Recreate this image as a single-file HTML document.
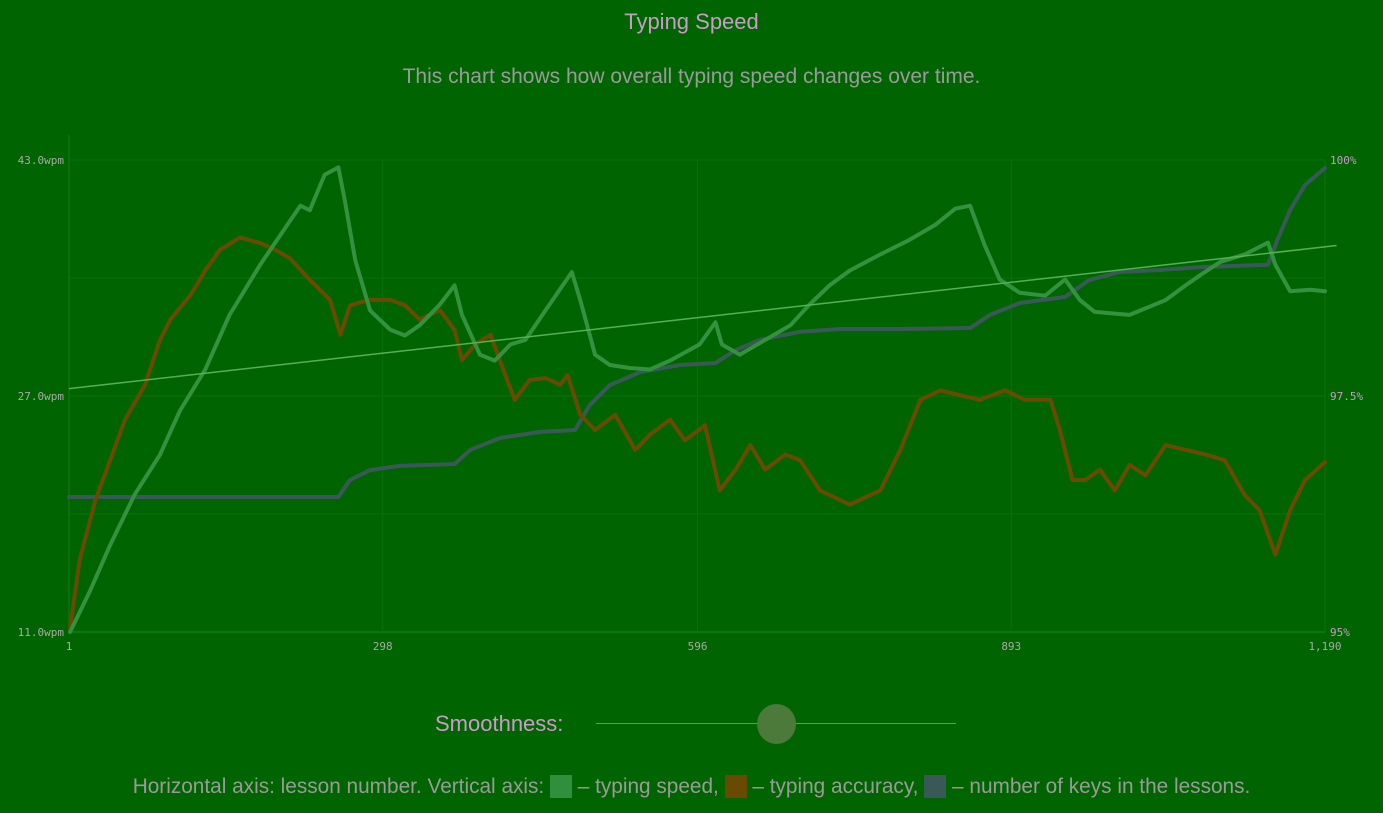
<!DOCTYPE html>
<html><head><meta charset="utf-8"><style>
body{margin:0;background:#006400;width:1383px;height:813px;overflow:hidden;font-family:"Liberation Sans",sans-serif}
.t{position:absolute;width:1383px;text-align:center}
</style></head><body>
<div class="t" style="top:9px;font-size:22px;color:#c99bc9">Typing Speed</div>
<div class="t" style="top:65px;font-size:21px;color:#9a9a9a">This chart shows how overall typing speed changes over time.</div>
<svg id="c" width="1383" height="680" style="position:absolute;left:0;top:0"></svg>
<div style="position:absolute;left:435px;top:711px;font-size:22px;color:#c99bc9">Smoothness:</div>
<div style="position:absolute;left:596px;top:723px;width:360px;height:1px;background:#6f8f6f"></div>
<div style="position:absolute;left:757px;top:704px;width:39px;height:40px;border-radius:50%;background:#4b7a3b"></div>
<div class="t" style="top:775px;font-size:20.8px;color:#9a9a9a">Horizontal axis: lesson number. Vertical axis: <span style="display:inline-block;width:22px;height:23px;background:#2f8f3f;vertical-align:-5px"></span> – typing speed, <span style="display:inline-block;width:22px;height:23px;background:#6a4a00;vertical-align:-5px"></span> – typing accuracy, <span style="display:inline-block;width:22px;height:23px;background:#3a5858;vertical-align:-5px"></span> – number of keys in the lessons.</div>
<script>
const xTicks=[1,298,596,893,1190];
const xTickLabels=["1","298","596","893","1,190"];
const yLeftTicks=[11,27,43];
const yLeftLabels=["11.0wpm","27.0wpm","43.0wpm"];
const yRightTicks=[95,97.5,100];
const yRightLabels=["95%","97.5%","100%"];
const speedLessons=[2,21,40,63,87,106,130,153,182,220,229,243,256,262,272,286,305,319,333,352,366,373,390,404,419,433,452,477,485,499,513,532,551,570,598,613,619,636,660,684,702,721,740,769,797,821,840,854,868,882,901,925,944,958,972,1005,1039,1058,1072,1091,1114,1136,1143,1157,1176,1190];
const speedWpm=[11.0,13.8,16.9,20.3,23.0,26.0,28.8,32.5,35.9,39.9,39.6,42.0,42.5,40.3,36.2,32.8,31.5,31.1,31.8,33.2,34.5,32.5,29.8,29.4,30.5,30.8,32.8,35.4,33.5,29.8,29.1,28.9,28.8,29.4,30.5,32.0,30.5,29.8,30.8,31.8,33.2,34.5,35.5,36.6,37.6,38.6,39.7,39.9,37.2,34.9,34.0,33.8,34.9,33.5,32.7,32.5,33.5,34.5,35.2,36.1,36.6,37.4,35.9,34.1,34.2,34.1];
const accLessons=[2,11,26,40,54,73,87,97,116,130,144,163,182,196,210,229,248,258,267,286,305,319,333,352,366,373,385,400,414,423,437,452,466,473,485,499,518,537,551,570,584,603,617,632,646,660,679,693,712,740,769,788,807,826,844,863,887,906,930,939,951,963,977,991,1005,1020,1039,1058,1077,1095,1114,1128,1143,1157,1171,1190];
const accPct=[95.04,95.76,96.40,96.82,97.25,97.62,98.09,98.31,98.57,98.83,99.05,99.18,99.12,99.05,98.96,98.73,98.52,98.15,98.46,98.52,98.52,98.46,98.31,98.41,98.20,97.88,98.04,98.15,97.72,97.46,97.67,97.69,97.62,97.72,97.30,97.14,97.30,96.93,97.09,97.25,97.03,97.19,96.50,96.72,96.98,96.72,96.88,96.82,96.50,96.35,96.50,96.93,97.46,97.56,97.51,97.46,97.56,97.46,97.46,97.14,96.61,96.61,96.72,96.50,96.77,96.66,96.98,96.93,96.88,96.82,96.45,96.29,95.82,96.29,96.61,96.80];
const keyLessons=[1,256,267,286,314,366,381,409,447,480,494,513,542,580,613,632,655,693,731,788,854,873,901,944,967,996,1034,1072,1136,1145,1157,1171,1190];
const keyLevel=[28.6,28.6,32.2,34.3,35.2,35.6,38.6,41.1,42.4,42.8,48.1,52.3,55.1,56.6,57.0,59.7,61.9,63.6,64.2,64.2,64.4,67.2,69.7,71.0,74.6,76.3,76.7,77.3,77.8,83.1,89.4,94.7,98.3];
const trendLessons=[1,1200];
const trendWpm=[27.5,37.2];

const L=69,R=1325,T=160,B=632;
const x=l=>L+(l-1)/(1190-1)*(R-L);
const yW=v=>B-(v-11)/(43-11)*(B-T);
const yP=v=>B-(v-95)/(100-95)*(B-T);
const yK=v=>B-v/100*(B-T);
const svg=document.getElementById('c');const NS='http://www.w3.org/2000/svg';
function mk(t,a){const e=document.createElementNS(NS,t);for(const k in a)e.setAttribute(k,a[k]);svg.appendChild(e);return e;}
[160,278,396,514,632].forEach((gy,i)=>{const g=mk('line',{x1:L,x2:R,y1:gy,y2:gy,stroke:i==4?'#0a7a0a':'#0b700b','stroke-width':i==4?2:1});
});
xTicks.forEach((t,i)=>{const g=mk('line',{x1:x(t),x2:x(t),y1:i==0?135:T,y2:B,stroke:'#0b700b','stroke-width':i==0?2:1});

const tx=mk('text',{x:x(t),y:650,'text-anchor':'middle','font-family':'DejaVu Sans Mono, Liberation Mono, monospace','font-size':11,fill:'#a9a9a9'});tx.textContent=xTickLabels[i];
});
yLeftTicks.forEach((t,i)=>{const tx=mk('text',{x:64,y:yW(t)+4,'text-anchor':'end','font-family':'DejaVu Sans Mono, Liberation Mono, monospace','font-size':11,fill:'#a9a9a9'});tx.textContent=yLeftLabels[i];
});
yRightTicks.forEach((t,i)=>{const tx=mk('text',{x:1330,y:yP(t)+4,'font-family':'DejaVu Sans Mono, Liberation Mono, monospace','font-size':11,fill:'#c99bc9'});tx.textContent=yRightLabels[i];
});
function line(xs,ys,fy,col,w,name){const p=mk('polyline',{points:xs.map((l,i)=>x(l)+','+fy(ys[i])).join(' '),fill:'none',stroke:col,'stroke-width':w,'stroke-linejoin':'round','stroke-linecap':'round'});
}
line(keyLessons,keyLevel,yK,'#3a5858',4,'keys-line');
line(accLessons,accPct,yP,'#6a4a00',4,'accuracy-line');
line(speedLessons,speedWpm,yW,'#33913f',4,'speed-line');
const tl=mk('line',{x1:x(trendLessons[0]),y1:yW(trendWpm[0]),x2:x(trendLessons[1])+1,y2:yW(trendWpm[1]),stroke:'#55b055','stroke-width':1.5});

</script>
</body></html>
